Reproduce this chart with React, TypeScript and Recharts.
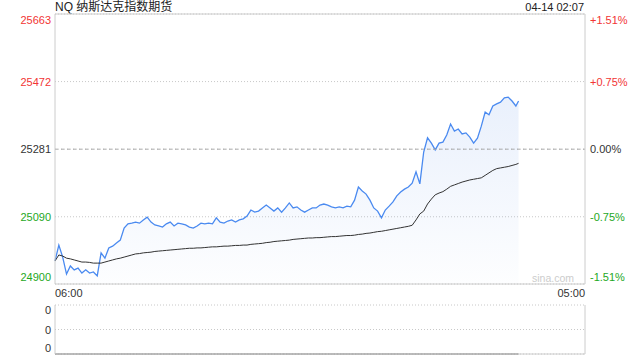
import { ComposedChart, LineChart, Line, Area, XAxis, YAxis, CartesianGrid, ReferenceLine } from "recharts"

const preClose = 25281
const priceTicks = [24900, 25090, 25281, 25472, 25663]
const pctLabels = ["-1.51%", "-0.75%", "0.00%", "+0.75%", "+1.51%"]
const timeTicks = [0, 1380]
const timeLabels = ["06:00", "05:00"]
const lastMinute = 1207 // 04-14 02:07
const maxVolume = 0
const volTicks = [0, 0.5, 1]

// 10 minute samples from 06:00
const prices = [
  24965, 25010, 24976, 24928, 24951, 24940, 24945, 24931, 24940, 24931,
  24934, 24923, 24988, 24973, 25002, 25007, 25016, 25024, 25058, 25070,
  25072, 25075, 25072, 25081, 25089, 25075, 25067, 25064, 25061, 25070,
  25075, 25064, 25072, 25070, 25067, 25061, 25058, 25064, 25072, 25070,
  25072, 25070, 25087, 25075, 25072, 25078, 25081, 25075, 25081, 25084,
  25092, 25109, 25103, 25106, 25115, 25123, 25115, 25106, 25115, 25103,
  25115, 25129, 25115, 25118, 25109, 25103, 25109, 25115, 25115, 25123,
  25126, 25123, 25118, 25115, 25118, 25115, 25120, 25118, 25137, 25174,
  25163, 25154, 25137, 25115, 25106, 25087, 25109, 25120, 25132, 25149,
  25160, 25168, 25174, 25185, 25217, 25183, 25273, 25313, 25298, 25279,
  25298, 25301, 25321, 25352, 25332, 25338, 25324, 25327, 25315, 25298,
  25312, 25346, 25386, 25378, 25403, 25409, 25414, 25426, 25428, 25417,
  25403, 25417,
]

const avgPrices = [
  24965, 24982, 24979, 24973, 24971, 24968, 24965, 24962, 24962, 24961,
  24959, 24959, 24959, 24962, 24965, 24968, 24971, 24973, 24976, 24979,
  24982, 24985, 24986, 24988, 24989, 24990, 24992, 24993, 24994, 24995,
  24996, 24997, 24998, 24999, 25000, 25001, 25001, 25002, 25002, 25003,
  25004, 25005, 25005, 25006, 25007, 25007, 25008, 25009, 25009, 25010,
  25010, 25012, 25013, 25014, 25015, 25017, 25018, 25020, 25021, 25022,
  25023, 25024, 25026, 25027, 25028, 25029, 25030, 25030, 25031, 25031,
  25032, 25033, 25034, 25034, 25035, 25036, 25037, 25037, 25038, 25040,
  25041, 25043, 25044, 25046, 25048, 25049, 25051, 25053, 25055, 25057,
  25059, 25061, 25063, 25066, 25081, 25098, 25106, 25126, 25140, 25152,
  25157, 25161, 25168, 25176, 25180, 25184, 25188, 25191, 25194, 25196,
  25198, 25200, 25207, 25214, 25221, 25226, 25228, 25230, 25232, 25235,
  25238, 25241,
]

const volumes = [
  0, 0, 0, 0, 0, 0, 0, 0, 0, 0, 0, 0, 0, 0, 0, 0, 0, 0, 0, 0,
  0, 0, 0, 0, 0, 0, 0, 0, 0, 0, 0, 0, 0, 0, 0, 0, 0, 0, 0, 0,
  0, 0, 0, 0, 0, 0, 0, 0, 0, 0, 0, 0, 0, 0, 0, 0, 0, 0, 0, 0,
  0, 0, 0, 0, 0, 0, 0, 0, 0, 0, 0, 0, 0, 0, 0, 0, 0, 0, 0, 0,
  0, 0, 0, 0, 0, 0, 0, 0, 0, 0, 0, 0, 0, 0, 0, 0, 0, 0, 0, 0,
  0, 0, 0, 0, 0, 0, 0, 0, 0, 0, 0, 0, 0, 0, 0, 0, 0, 0, 0, 0,
  0, 0,
]

const data = prices.map((p, i) => ({
  t: Math.min(i * 10, lastMinute),
  price: p,
  avg: avgPrices[i],
  vol: volumes[i],
}))

const font = "'Liberation Sans', Arial, 'Noto Sans CJK SC', sans-serif"
const red = "#f23535"
const green = "#1ea81e"
const dark = "#333"
const border = "#ccc"

function tickColor(v: number) {
  if (v > preClose) return red
  if (v < preClose) return green
  return dark
}

function edgeShift(v: number, ticks: number[], down: number, up: number) {
  if (v === ticks[ticks.length - 1]) return down
  if (v === ticks[0]) return up
  return 0
}

function PriceTick(props: any) {
  const { x, y, payload } = props
  const v = payload.value
  return (
    <text x={x} y={y + edgeShift(v, priceTicks, 6, -7)} textAnchor="end" dominantBaseline="central"
      fontSize={11} fontFamily={font} fill={tickColor(v)}>
      {v}
    </text>
  )
}

function PctTick(props: any) {
  const { x, y, payload } = props
  const v = payload.value
  return (
    <text x={x} y={y + edgeShift(v, priceTicks, 6, -7)} textAnchor="start" dominantBaseline="central"
      fontSize={11} fontFamily={font} fill={tickColor(v)}>
      {pctLabels[priceTicks.indexOf(v)]}
    </text>
  )
}

function TimeTick(props: any) {
  const { x, y, payload } = props
  const i = timeTicks.indexOf(payload.value)
  return (
    <text x={x} y={y + 9} textAnchor={i === 0 ? "start" : "end"} dominantBaseline="central"
      fontSize={11} fontFamily={font} fill={dark}>
      {timeLabels[i]}
    </text>
  )
}

function VolTick(props: any) {
  const { x, y, payload } = props
  const v = payload.value
  return (
    <text x={x} y={y + edgeShift(v, volTicks, 5, -6)} textAnchor="end" dominantBaseline="central"
      fontSize={11} fontFamily={font} fill={dark}>
      {Math.trunc(v * maxVolume)}
    </text>
  )
}

export default function App() {
  return (
    <div style={{ position: "absolute", left: 0, top: 0, width: 640, height: 360, background: "#fff", fontFamily: font }}>
      <div style={{ position: "absolute", left: 55, top: 0, fontSize: 12, lineHeight: "15px", color: "#222" }}>
        NQ 纳斯达克指数期货
      </div>
      <div style={{ position: "absolute", right: 56, top: 0, fontSize: 11, lineHeight: "15px", color: "#222" }}>
        04-14 02:07
      </div>

      <div style={{ position: "absolute", left: 0, top: 0 }}>
        <ComposedChart width={640} height={300} data={data} margin={{ top: 14, right: 0, bottom: 0, left: 0 }}>
          <defs>
            <linearGradient id="priceFill" x1="0" y1="0" x2="0" y2="1">
              <stop offset="0%" stopColor="#5b8fe8" stopOpacity={0.22} />
              <stop offset="100%" stopColor="#5b8fe8" stopOpacity={0.02} />
            </linearGradient>
          </defs>
          <CartesianGrid yAxisId="left" vertical={false} stroke="#c8c8c8" strokeDasharray="1 2" />
          <XAxis dataKey="t" type="number" domain={[0, 1380]} ticks={timeTicks} interval={0}
            tick={<TimeTick />} tickLine={false} tickSize={0} tickMargin={0} height={16}
            axisLine={{ stroke: border }} />
          <YAxis yAxisId="left" domain={[priceTicks[0], priceTicks[4]]} ticks={priceTicks} interval={0}
            width={55} tick={<PriceTick />} tickLine={false} tickSize={0} tickMargin={4}
            axisLine={{ stroke: border }} />
          <YAxis yAxisId="right" orientation="right" domain={[priceTicks[0], priceTicks[4]]} ticks={priceTicks}
            interval={0} width={55} tick={<PctTick />} tickLine={false} tickSize={0} tickMargin={5}
            axisLine={{ stroke: border }} />
          <ReferenceLine yAxisId="left" y={priceTicks[4]} stroke={border} />
          <ReferenceLine yAxisId="left" y={preClose} stroke="#aaa" strokeDasharray="3 3" />
          <Area yAxisId="left" type="linear" dataKey="price" stroke="#4a8af0" strokeWidth={1.3}
            fill="url(#priceFill)" dot={false} activeDot={false} isAnimationActive={false} />
          <Line yAxisId="right" type="linear" dataKey="avg" stroke="#333" strokeWidth={1}
            dot={false} activeDot={false} isAnimationActive={false} />
        </ComposedChart>
      </div>

      <div style={{ position: "absolute", left: 532, top: 272, fontSize: 10.5, color: "#ccc" }}>sina.com</div>

      <div style={{ position: "absolute", left: 0, top: 300 }}>
        <LineChart width={640} height={56} data={data} margin={{ top: 5, right: 0, bottom: 0, left: 0 }}>
          <CartesianGrid yAxisId="left" vertical={false} stroke="#c8c8c8" strokeDasharray="1 2" />
          <XAxis dataKey="t" type="number" domain={[0, 1380]} tick={false} tickLine={false} height={2}
            axisLine={{ stroke: border }} />
          <YAxis yAxisId="left" domain={[0, 1]} ticks={volTicks} interval={0} width={55}
            tick={<VolTick />} tickLine={false} tickSize={0} tickMargin={4} axisLine={{ stroke: border }} />
          <YAxis yAxisId="right" orientation="right" width={55} tick={false} tickLine={false}
            axisLine={{ stroke: border }} />
          <Line yAxisId="left" type="linear" dataKey="vol" stroke="#555" strokeWidth={1}
            dot={false} activeDot={false} isAnimationActive={false} />
        </LineChart>
      </div>
    </div>
  )
}
